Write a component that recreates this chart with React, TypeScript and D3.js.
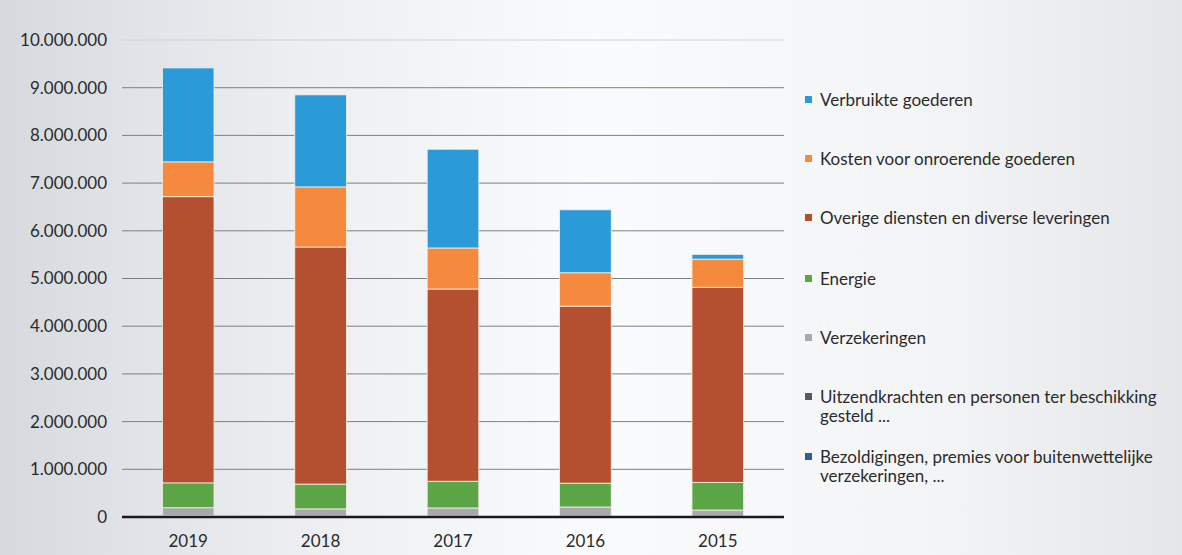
import React from "react";
import * as d3 from "d3";

const years = ["2019", "2018", "2017", "2016", "2015"];
const seriesNames = [
  "Bezoldigingen, premies voor buitenwettelijke verzekeringen, ...",
  "Uitzendkrachten en personen ter beschikking gesteld ...",
  "Verzekeringen",
  "Energie",
  "Overige diensten en diverse leveringen",
  "Kosten voor onroerende goederen",
  "Verbruikte goederen",
];
const bezoldigingen = [10000, 8000, 8000, 8000, 6000];
const uitzendkrachten = [15000, 12000, 12000, 12000, 10000];
const verzekeringen = [170000, 150000, 170000, 190000, 130000];
const energie = [520000, 520000, 560000, 500000, 580000];
const overige = [6000000, 4970000, 4030000, 3710000, 4090000];
const kosten = [730000, 1260000, 860000, 700000, 590000];
const verbruikte = [1970000, 1930000, 2070000, 1320000, 100000];
const seriesValues = [bezoldigingen, uitzendkrachten, verzekeringen, energie, overige, kosten, verbruikte];
const colors = ["#2B5E9C", "#5A5A5E", "#A9A9AD", "#5CA546", "#B4502F", "#F58A3E", "#2A9AD9"];
const yTicks = [0, 1000000, 2000000, 3000000, 4000000, 5000000, 6000000, 7000000, 8000000, 9000000, 10000000];

const legendOrder = [6, 5, 4, 3, 2, 1, 0];
const legendLines: string[][] = [
  ["Verbruikte goederen"],
  ["Kosten voor onroerende goederen"],
  ["Overige diensten en diverse leveringen"],
  ["Energie"],
  ["Verzekeringen"],
  ["Uitzendkrachten en personen ter beschikking", "gesteld ..."],
  ["Bezoldigingen, premies voor buitenwettelijke", "verzekeringen, ..."],
];
const legendY = [100, 159, 218, 279, 338, 397, 457];

export default function App() {
  const W = 1182, H = 555;
  const x = d3.scaleBand().domain(years).range([122, 784]).paddingInner(0.61).paddingOuter(0.305);
  const y = d3.scaleLinear().domain([0, 10000000]).range([517, 40]);
  const fmt = (v: number) => d3.format(",")(v).replace(/,/g, ".");
  const table = years.map((yr, i) => {
    const o: any = { year: yr };
    seriesNames.forEach((s, k) => (o[s] = seriesValues[k][i]));
    return o;
  });
  const stacked = d3.stack().keys(seriesNames)(table);
  const font = "Lato, 'Open Sans', sans-serif";
  return (
    <svg width={W} height={H} style={{ position: "absolute", left: 0, top: 0 }}>
      <defs>
        <linearGradient id="bg" x1="0" x2="1" y1="0" y2="0">
          <stop offset="0" stopColor="#d6dadf" />
          <stop offset="0.25" stopColor="#eceef1" />
          <stop offset="0.5" stopColor="#fafbfc" />
          <stop offset="0.8" stopColor="#f3f4f6" />
          <stop offset="1" stopColor="#e4e6e9" />
        </linearGradient>
      </defs>
      <rect x={0} y={0} width={W} height={H} fill="url(#bg)" />
      {yTicks.slice(1).map((t) => (
        <line key={t} x1={122} x2={784} y1={y(t)} y2={y(t)} stroke={t === 10000000 ? "#d0d2d6" : "#7d7f84"} strokeWidth={1} />
      ))}
      {yTicks.map((t) => (
        <text key={"l" + t} x={107} y={y(t)} dy="0.35em" textAnchor="end" fontFamily={font} fontSize={17} fill="#2b2b2b">
          {fmt(t)}
        </text>
      ))}
      {stacked.map((s, k) => (
        <g key={s.key} fill={colors[k]}>
          {s.map((d, i) => (
            <rect key={i} x={x(years[i])} y={y(d[1])} width={x.bandwidth()} height={Math.max(0, y(d[0]) - y(d[1]))} stroke="#f4f1e6" strokeWidth={0.8} />
          ))}
        </g>
      ))}
      <line x1={122} x2={784} y1={y(0)} y2={y(0)} stroke="#1a1a1a" strokeWidth={2.5} />
      {years.map((yr) => (
        <text key={yr} x={(x(yr) as number) + x.bandwidth() / 2} y={541} dy="0.35em" textAnchor="middle" fontFamily={font} fontSize={17} fill="#2b2b2b">
          {yr}
        </text>
      ))}
      {legendOrder.map((k, j) => (
        <g key={k}>
          <rect x={805} y={legendY[j] - 4} width={7} height={7} fill={colors[k]} />
          {legendLines[j].map((ln, m) => (
            <text key={m} x={820} y={legendY[j] + m * 19.5} dy="0.35em" fontFamily={font} fontSize={17} fill="#2b2b2b">
              {ln}
            </text>
          ))}
        </g>
      ))}
    </svg>
  );
}
